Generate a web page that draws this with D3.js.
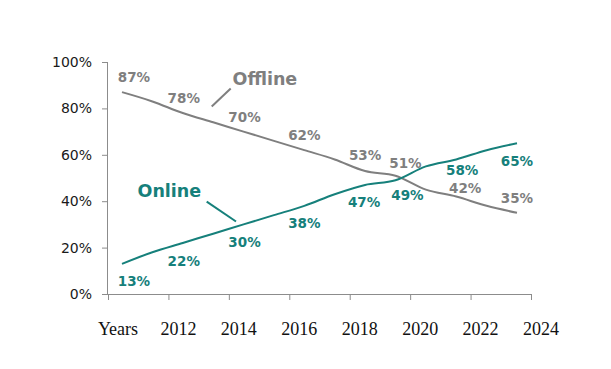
<!DOCTYPE html>
<html><head><meta charset="utf-8">
<script src="https://cdn.jsdelivr.net/npm/d3@7"></script>
<style>
html,body{margin:0;padding:0;background:#fff;}
svg{display:block;}
</style></head>
<body>
<script>
// ---- data ----
const years = [2011,2012,2013,2014,2015,2016,2017,2018,2019,2020,2021,2022,2023,2024];
const offline = [87,83,78,74,70,66,62,58,53,51,45,42,38,35];
const online  = [13,18,22,26,30,34,38,43,47,49,55,58,62,65];
const labelYears = [2011,2013,2015,2017,2019,2020,2022,2024];
const xTickLabels = ["Years","2012","2014","2016","2018","2020","2022","2024"];
const yTicks = [0,20,40,60,80,100];
const seriesNames = ["Offline","Online"];

// ---- layout ----
const W = 611, H = 369;
const grey = "#7f7f7f", teal = "#16807b";
const offDx = [12,1,1,0,0,10,9,0], offDy = [-15,-15,-15,-15,-16,-13,-9,-15];
const onDx  = [12,1,1,0,-1,12,6,0], onDy  = [17,18,18,17,17,15,11,18];

const svg = d3.select("body").append("svg").attr("width",W).attr("height",H);

const y = d3.scaleLinear().domain([0,100]).range([294,62]);
const xTick = d3.scalePoint().domain(xTickLabels).range([108,531]);
const x = d3.scaleLinear().domain([2011,2024]).range([122,517]);

// y axis
const gy = svg.append("g").attr("transform","translate(108,0)")
  .call(d3.axisLeft(y).tickValues(yTicks).tickSize(6).tickPadding(10).tickFormat(d=>d+"%"));
gy.select(".domain").attr("stroke","#8c8c8c").attr("d","M-0.5,62.5V294.5");
gy.selectAll(".tick line").attr("stroke","#8c8c8c");
gy.selectAll("text").attr("font-family","'DejaVu Sans',sans-serif").attr("font-size",14).attr("fill","#1a1a1a");

// x axis
const gx = svg.append("g").attr("transform","translate(0,294)")
  .call(d3.axisBottom(xTick).tickSize(6).tickPadding(0));
gx.select(".domain").attr("stroke","#8c8c8c").attr("d","M108,0.5H531");
gx.selectAll(".tick line").attr("stroke","#8c8c8c");
gx.selectAll("text").attr("font-family","'Liberation Serif','Times New Roman',serif")
  .attr("font-size",18).attr("fill","#111").attr("dx",9.5).attr("y",41).attr("dy",0);

// lines
const line = d3.line().x((d,i)=>x(years[i])).y(d=>y(d)).curve(d3.curveMonotoneX);
svg.append("path").datum(offline).attr("d",line).attr("fill","none").attr("stroke",grey).attr("stroke-width",2);
svg.append("path").datum(online).attr("d",line).attr("fill","none").attr("stroke",teal).attr("stroke-width",2);

// data labels
function labels(vals, dx, dy, color){
  svg.append("g").selectAll("text").data(labelYears).join("text")
    .attr("x",(yr,i)=>x(yr)+dx[i])
    .attr("y",(yr,i)=>y(vals[years.indexOf(yr)])+dy[i])
    .attr("text-anchor","middle").attr("dominant-baseline","central")
    .attr("font-family","'DejaVu Sans',sans-serif").attr("font-weight","bold")
    .attr("font-size",13.5).attr("fill",color)
    .text(yr=>vals[years.indexOf(yr)]+"%");
}
labels(offline, offDx, offDy, grey);
labels(online, onDx, onDy, teal);

// series annotations
svg.append("text").attr("x",232.5).attr("y",85).text(seriesNames[0])
  .attr("font-family","'DejaVu Sans',sans-serif").attr("font-weight","bold").attr("font-size",17.5).attr("fill",grey);
svg.append("line").attr("x1",230.7).attr("y1",88.5).attr("x2",211.7).attr("y2",106.5).attr("stroke",grey).attr("stroke-width",2);
svg.append("text").attr("x",137.5).attr("y",197).text(seriesNames[1])
  .attr("font-family","'DejaVu Sans',sans-serif").attr("font-weight","bold").attr("font-size",17.5).attr("fill",teal);
svg.append("line").attr("x1",206.7).attr("y1",201.7).attr("x2",236).attr("y2",221.5).attr("stroke",teal).attr("stroke-width",2);
</script>
</body></html>
